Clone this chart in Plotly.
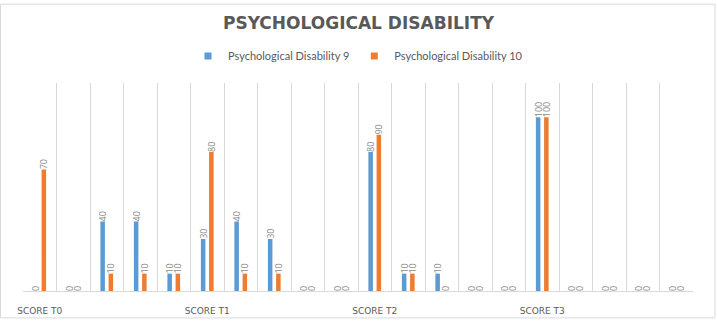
import plotly.graph_objects as go

# Data
cat_index = list(range(20))
tick_positions = [0, 5, 10, 15]
tick_labels = ["SCORE T0", "SCORE T1", "SCORE T2", "SCORE T3"]
series_9 = [0, 0, 40, 40, 10, 30, 40, 30, 0, 0, 80, 10, 10, 0, 0, 100, 0, 0, 0, 0]
series_10 = [70, 0, 10, 10, 10, 80, 10, 10, 0, 0, 90, 10, 0, 0, 0, 100, 0, 0, 0, 0]
name_9 = "Psychological Disability 9"
name_10 = "Psychological Disability 10"
color_9 = "#5B9BD5"
color_10 = "#ED7D31"

W, H = 717, 328
L, R, T, B = 23, 24, 82, 29
pw, ph = W - L - R, H - T - B

label_font = dict(family="Open Sans", size=9, color="#8C8C8C")

fig = go.Figure()
for ys, nm, col in [(series_9, name_9, color_9), (series_10, name_10, color_10)]:
    fig.add_trace(go.Bar(
        x=cat_index, y=ys, name=nm, legendgroup=nm, showlegend=False,
        marker=dict(color=col, line=dict(width=0)),
        texttemplate="%{y}", textposition="outside", textangle=-90,
        constraintext="none",
        textfont=label_font, cliponaxis=False,
    ))
# legend entries (small square swatches like the reference)
for nm, col in [(name_9, color_9), (name_10, color_10)]:
    fig.add_trace(go.Scatter(
        x=[None], y=[None], mode="markers", name=nm, legendgroup=nm,
        marker=dict(symbol="square", size=7, color=col),
    ))

fig.update_layout(
    width=W, height=H,
    margin=dict(l=L, r=R, t=T, b=B, pad=0),
    paper_bgcolor="white", plot_bgcolor="white",
    barmode="group", bargap=0.51, bargroupgap=0.45,
    title=dict(
        text="<b>PSYCHOLOGICAL DISABILITY</b>",
        font=dict(family="DejaVu Sans", size=17, color="#595959"),
        x=0.5, xanchor="center", xref="container",
        y=1 - 23 / H, yanchor="middle", yref="container",
    ),
    legend=dict(
        orientation="h", x=0.5, xanchor="center",
        y=1 - 56 / H, yanchor="middle", yref="container",
        font=dict(family="Lato", size=11, color="#595959"),
        itemwidth=30, traceorder="normal",
    ),
    showlegend=True,
)

fig.update_xaxes(
    range=[-0.5, 19.5],
    tickmode="array", tickvals=tick_positions, ticktext=tick_labels,
    tickfont=dict(family="DejaVu Sans", size=9, color="#595959"),
    ticks="", ticklabelstandoff=11,
    showgrid=False, zeroline=False,
    showline=True, linecolor="#D9D9D9", linewidth=1,
    minor=dict(tick0=-0.5, dtick=1, showgrid=True, gridcolor="#D9D9D9", gridwidth=1, ticks=""),
)
fig.update_yaxes(
    range=[0, 120], visible=False, showgrid=False, zeroline=False,
)

# chart border
fig.add_shape(
    type="rect", xref="paper", yref="paper",
    x0=(0.5 - L) / pw, x1=(715 - L) / pw,
    y0=(H - B - 327) / ph, y1=(H - B - 0.5) / ph,
    line=dict(color="#D9D9D9", width=1), fillcolor="rgba(0,0,0,0)", layer="below",
)

fig.write_html("out.html")
